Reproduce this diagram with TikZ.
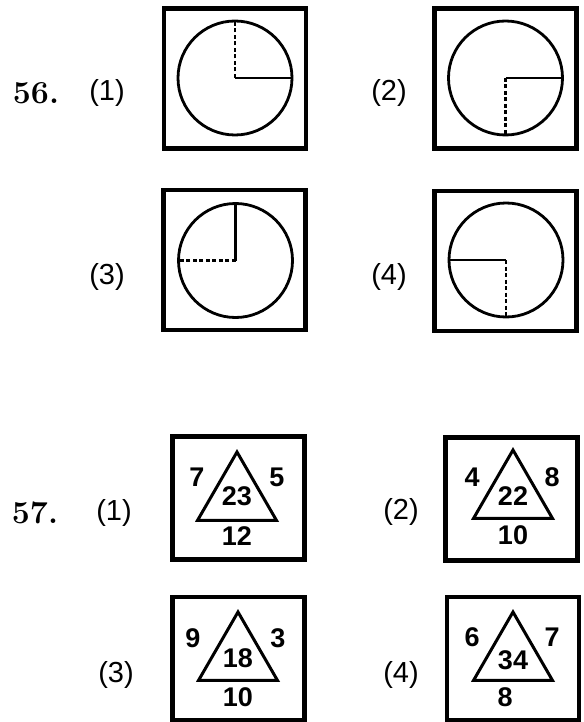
\documentclass[tikz,border=0pt]{standalone}
\usepackage{fontspec}
\newfontfamily\arialfont{Liberation Sans}
\usetikzlibrary{shapes.geometric, positioning}

\begin{document}
\begin{tikzpicture}[
        x=1pt, y=-1pt,
        % Etiquetas de pregunta y de opciones
        qnum/.style={font=\bfseries\fontsize{32}{36}\selectfont, inner sep=0pt},
        optlbl/.style={font=\arialfont\fontsize{29}{33}\selectfont, inner sep=0pt},
        % Cuadros con reloj
        qbox/.style={draw, line width=4.6pt, minimum width=142pt, minimum height=140pt, inner sep=0pt},
        dial/.style={draw, circle, line width=2.8pt, minimum size=114pt, inner sep=0pt},
        hand/.style={line width=2.8pt},
        halfhand/.style={line width=2.5pt, dash pattern=on 4pt off 2.5pt},
        % Cuadros con triangulo
        cardbox/.style={draw, line width=4.2pt, minimum width=132pt, minimum height=123pt, inner sep=0pt},
        tri/.style={draw, regular polygon, regular polygon sides=3, line width=3pt, minimum size=91pt, inner sep=0pt},
        val/.style={font=\arialfont\bfseries\fontsize{27}{31}\selectfont, inner sep=0pt}
    ]
        \useasboundingbox (0,0) rectangle (583,722);

        % Pregunta 56
        \node[qnum] (q56) at (36,93) {56.};
        \node[optlbl] (o56a) at (107,93) {(1)};
        \node[optlbl] (o56b) at (389,93) {(2)};
        \node[optlbl] (o56c) at (107,277) {(3)};
        \node[optlbl] (o56d) at (389,277) {(4)};

        \node[qbox] (box1) at (235,78.5) {};
        \node[qbox] (box2) at (505.5,78.5) {};
        \node[qbox] (box3) at (234.5,260) {};
        \node[qbox] (box4) at (505.5,261) {};

        \node[dial] (dial1) at (235,78) {};
        \node[dial] (dial2) at (505.5,78) {};
        \node[dial] (dial3) at (235.5,260.5) {};
        \node[dial] (dial4) at (506,260) {};

        % Manecillas
        \draw[hand] (dial1.center) -- (dial1.east);
        \draw[halfhand] (dial1.center) -- (dial1.north);
        \draw[hand] (dial2.center) -- (dial2.east);
        \draw[halfhand] (dial2.center) -- (dial2.south);
        \draw[hand] (dial3.center) -- (dial3.north);
        \draw[halfhand] (dial3.center) -- (dial3.west);
        \draw[hand] (dial4.center) -- (dial4.west);
        \draw[halfhand] (dial4.center) -- (dial4.south);

        % Pregunta 57
        \node[qnum] (q57) at (35,513) {57.};
        \node[optlbl] (o57a) at (114,513) {(1)};
        \node[optlbl] (o57b) at (401,512) {(2)};
        \node[optlbl] (o57c) at (116,675) {(3)};
        \node[optlbl] (o57d) at (401,675) {(4)};

        \node[cardbox] (card1) at (238.5,498) {};
        \node[cardbox] (card2) at (511.5,499) {};
        \node[cardbox] (card3) at (238.5,658.5) {};
        \node[cardbox] (card4) at (513,658.5) {};

        \node[tri] (tri1) at (237,497.5) {};
        \node[tri] (tri2) at (513,495.5) {};
        \node[tri] (tri3) at (238,657.5) {};
        \node[tri] (tri4) at (513,657.5) {};

        % Numeros
        \node[val] (l1) at (197,477) {7};
        \node[val] (r1) at (277,477) {5};
        \node[val] (m1) at (237,496) {23};
        \node[val] (b1) at (237,536) {12};

        \node[val] (l2) at (472,477) {4};
        \node[val] (r2) at (552,477) {8};
        \node[val] (m2) at (513,496) {22};
        \node[val] (b2) at (513,535) {10};

        \node[val] (l3) at (193,638) {9};
        \node[val] (r3) at (278,638) {3};
        \node[val] (m3) at (238,658) {18};
        \node[val] (b3) at (238,697) {10};

        \node[val] (l4) at (472,637) {6};
        \node[val] (r4) at (552,637) {7};
        \node[val] (m4) at (513,660) {34};
        \node[val] (b4) at (505,697) {8};

    \end{tikzpicture}
\end{document}
